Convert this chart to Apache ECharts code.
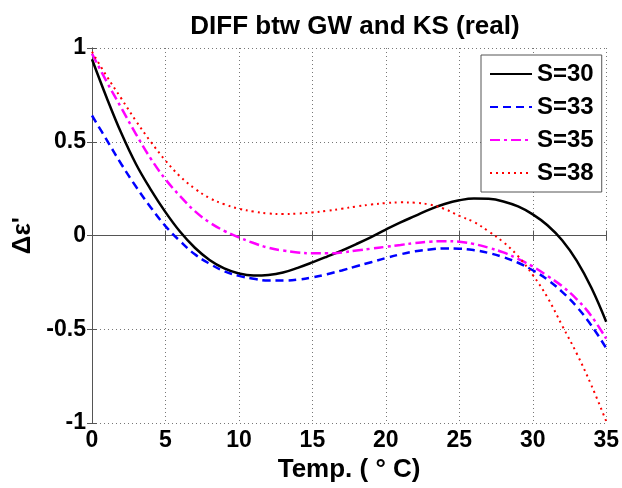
<!DOCTYPE html>
<html>
<head>
<meta charset="utf-8">
<script src="https://cdn.jsdelivr.net/npm/echarts@6/dist/echarts.min.js"></script>
<style>
  html, body { margin: 0; padding: 0; background: #fff; }
  #chart { width: 622px; height: 488px; }
</style>
</head>
<body>
<div id="chart"></div>
<script>
  // temperature in deg C, one value per degree
  var temps = [0, 1, 2, 3, 4, 5, 6, 7, 8, 9, 10, 11, 12, 13, 14, 15, 16, 17,
    18, 19, 20, 21, 22, 23, 24, 25, 26, 27, 28, 29, 30, 31, 32, 33, 34, 35];

  var s30 = [0.94, 0.735, 0.545, 0.38, 0.245, 0.125, 0.02, -0.065, -0.13, -0.175, -0.202, -0.213,
    -0.21, -0.197, -0.172, -0.143, -0.112, -0.08, -0.045, -0.008, 0.032, 0.07, 0.105, 0.14,
    0.168, 0.188, 0.198, 0.196, 0.182, 0.155, 0.113, 0.055, -0.025, -0.135, -0.28, -0.46];

  var s33 = [0.64, 0.51, 0.38, 0.26, 0.15, 0.05, -0.03, -0.10, -0.15, -0.19, -0.215, -0.23,
    -0.24, -0.24, -0.235, -0.223, -0.206, -0.186, -0.164, -0.142, -0.12, -0.10, -0.084, -0.074,
    -0.069, -0.07, -0.078, -0.093, -0.115, -0.145, -0.185, -0.235, -0.30, -0.38, -0.48, -0.60];

  var s35 = [0.97, 0.82, 0.68, 0.54, 0.41, 0.30, 0.21, 0.13, 0.07, 0.025, -0.01, -0.04,
    -0.065, -0.08, -0.09, -0.095, -0.095, -0.09, -0.08, -0.07, -0.06, -0.05, -0.04, -0.033,
    -0.03, -0.033, -0.045, -0.065, -0.09, -0.125, -0.165, -0.215, -0.27, -0.34, -0.43, -0.55];

  var s38 = [0.98, 0.85, 0.73, 0.61, 0.50, 0.40, 0.315, 0.25, 0.20, 0.167, 0.143, 0.128,
    0.118, 0.115, 0.117, 0.123, 0.132, 0.143, 0.155, 0.165, 0.173, 0.177, 0.175, 0.165,
    0.142, 0.105, 0.072, 0.022, -0.035, -0.11, -0.21, -0.33, -0.48, -0.63, -0.80, -0.99];

  var xTicks = [0, 5, 10, 15, 20, 25, 30, 35];
  var yTicks = [-1, -0.5, 0, 0.5, 1];

  var font = 'Liberation Sans, Arial, sans-serif';

  function pairs(ys) {
    return temps.map(function (t, i) { return [t, ys[i]]; });
  }

  function makeSeries(name, ys, color, type, width) {
    return {
      name: name,
      type: 'line',
      data: pairs(ys),
      smooth: 0.4,
      symbol: 'none',
      color: color,
      lineStyle: { color: color, width: width, type: type },
      z: 3
    };
  }

  var chart = echarts.init(document.getElementById('chart'));

  var axisFrame = { show: true, lineStyle: { color: '#555', width: 1 } };
  var tickIn = { show: true, inside: true, length: 5, lineStyle: { color: '#555' } };
  var gridDots = { show: true, lineStyle: { color: '#777', type: [1, 3], width: 1 } };
  var tickFont = { fontFamily: font, fontWeight: 'bold', fontSize: 23, color: '#000', margin: 6 };
  var nameFont = { fontFamily: font, fontWeight: 'bold', fontSize: 26, color: '#000' };

  var option = {
    animation: false,
    backgroundColor: '#fff',
    title: {
      text: 'DIFF btw GW and KS (real)',
      left: 350,
      top: 9,
      textAlign: 'center',
      textStyle: { fontFamily: font, fontWeight: 'bold', fontSize: 26, color: '#000' }
    },
    grid: { left: 92, right: 15, top: 48, bottom: 62 },
    legend: {
      orient: 'vertical',
      left: 481,
      top: 55,
      padding: [7, 8, 7, 8],
      itemWidth: 42,
      itemHeight: 20,
      itemGap: 9,
      backgroundColor: '#fff',
      borderColor: '#555',
      borderWidth: 1,
      itemStyle: { opacity: 0 },
      textStyle: { fontFamily: font, fontWeight: 'bold', fontSize: 24, color: '#000' },
      data: ['S=30', 'S=33', 'S=35', 'S=38']
    },
    xAxis: [{
      type: 'value',
      min: xTicks[0],
      max: xTicks[xTicks.length - 1],
      interval: 5,
      name: 'Temp. ( \u00b0 C)',
      nameLocation: 'middle',
      nameGap: 28,
      nameTextStyle: nameFont,
      axisLine: axisFrame,
      axisTick: tickIn,
      axisLabel: tickFont,
      splitLine: gridDots
    }, {
      type: 'value',
      position: 'top',
      min: xTicks[0],
      max: xTicks[xTicks.length - 1],
      interval: 5,
      axisLine: axisFrame,
      axisTick: tickIn,
      axisLabel: { show: false },
      splitLine: { show: false }
    }],
    yAxis: [{
      type: 'value',
      min: yTicks[0],
      max: yTicks[yTicks.length - 1],
      interval: 0.5,
      name: 'Δε\'',
      nameLocation: 'middle',
      nameGap: 56,
      nameTextStyle: nameFont,
      axisLine: axisFrame,
      axisTick: tickIn,
      axisLabel: tickFont,
      splitLine: gridDots
    }, {
      type: 'value',
      position: 'right',
      min: yTicks[0],
      max: yTicks[yTicks.length - 1],
      interval: 0.5,
      axisLine: axisFrame,
      axisTick: tickIn,
      axisLabel: { show: false },
      splitLine: { show: false }
    }],
    series: [
      makeSeries('S=30', s30, '#000000', 'solid', 2.5),
      makeSeries('S=33', s33, '#0000ff', [8, 5], 2.5),
      makeSeries('S=35', s35, '#ff00ff', [10, 4, 3, 4], 2.5),
      makeSeries('S=38', s38, '#ff0000', [2, 4], 2)
    ]
  };

  chart.setOption(option);
</script>
</body>
</html>
